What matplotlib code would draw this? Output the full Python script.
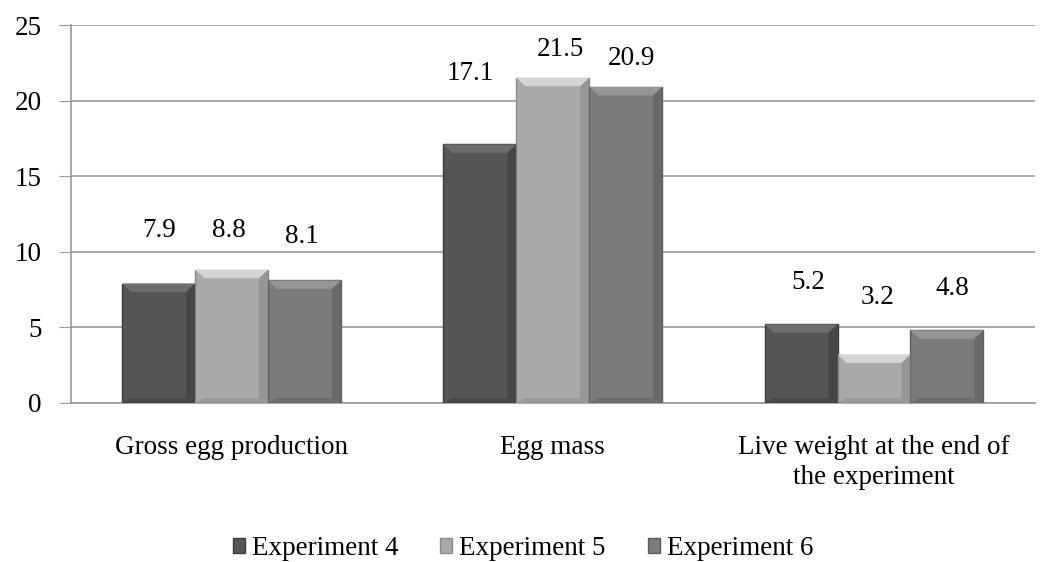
import numpy as np
import matplotlib.pyplot as plt
from matplotlib.patches import Polygon

plt.rcParams["font.family"] = ["Liberation Serif", "DejaVu Serif"]

# data
categories = ["Gross egg production", "Egg mass", "Live weight at the end of\nthe experiment"]
series_names = ["Experiment 4", "Experiment 5", "Experiment 6"]
exp4 = [7.9, 17.1, 5.2]
exp5 = [8.8, 21.5, 3.2]
exp6 = [8.1, 20.9, 4.8]

# label offsets above bar tops (data units), one row per series
label_offsets = [
    [3.5, 4.7, 2.8],
    [2.6, 1.85, 3.75],
    [2.9, 1.9, 2.8],
]
# small horizontal nudges for labels (in bar-width units)
label_dx = [
    [0.0, -0.13, 0.1],
    [-0.04, 0.1, 0.05],
    [-0.04, 0.08, 0.08],
]

colors = ["#565656", "#a9a9a9", "#7b7b7b"]
edge_colors = ["#3c3c3c", "#8a8a8a", "#5e5e5e"]
bevel_colors = ["#6e6e6e", "#d4d4d4", "#959595"]

FS = 19.5

fig = plt.figure(figsize=(10.44, 5.62), dpi=100)
ax = fig.add_axes([0.068, 0.283, 0.923, 0.6725])

x = np.arange(len(categories))
w = 0.227
values = [exp4, exp5, exp6]

for i, vals in enumerate(values):
    bars = ax.bar(x + (i - 1) * w, vals, width=w, color=colors[i],
                  edgecolor=edge_colors[i], linewidth=1.0, zorder=3,
                  label=series_names[i])
    for j, b in enumerate(bars):
        x0 = b.get_x()
        x1 = x0 + b.get_width()
        h = b.get_height()
        dx, dy = 0.028, 0.55
        # top bevel
        ax.add_patch(Polygon([[x0, h], [x1, h], [x1 - dx, h - dy], [x0 + dx, h - dy]],
                             closed=True, facecolor=bevel_colors[i], edgecolor="none", zorder=4))
        # side shading
        ax.add_patch(Polygon([[x1, h], [x1, 0], [x1 - dx, dy * 0.6], [x1 - dx, h - dy]],
                             closed=True, facecolor=edge_colors[i], alpha=0.6, edgecolor="none", zorder=4))
        ax.add_patch(Polygon([[x0, 0], [x1, 0], [x1 - dx, dy * 0.6], [x0 + dx, dy * 0.6]],
                             closed=True, facecolor=edge_colors[i], alpha=0.5, edgecolor="none", zorder=4))
        ax.text(b.get_x() + b.get_width() * (0.5 + label_dx[i][j]), h + label_offsets[i][j],
                f"{vals[j]}", ha="center", va="center", fontsize=FS, color="black")

ax.set_xlim(-0.5, 2.5)
ax.set_ylim(0, 25)
ax.set_yticks([0, 5, 10, 15, 20, 25])
ax.set_xticks(x)
ax.set_xticklabels(categories, fontsize=FS, linespacing=1.25)
ax.tick_params(axis="x", length=0, pad=23)
ax.tick_params(axis="y", length=9, color="#9a9a9a", labelsize=FS, pad=12)
ax.yaxis.grid(True, color="#9a9a9a", linewidth=1.2, zorder=0)
ax.set_axisbelow(True)

for s in ["top", "right"]:
    ax.spines[s].set_visible(False)
ax.spines["left"].set_color("#9a9a9a")
ax.spines["left"].set_linewidth(1.2)
ax.spines["bottom"].set_color("#9a9a9a")
ax.spines["bottom"].set_linewidth(1.2)

leg = ax.legend(loc="center", bbox_to_anchor=(0.469, -0.386), ncol=3, frameon=False,
                fontsize=FS, handlelength=0.45, handleheight=0.45, handletextpad=0.25,
                columnspacing=1.55)

fig.savefig("out.png", dpi=100)
